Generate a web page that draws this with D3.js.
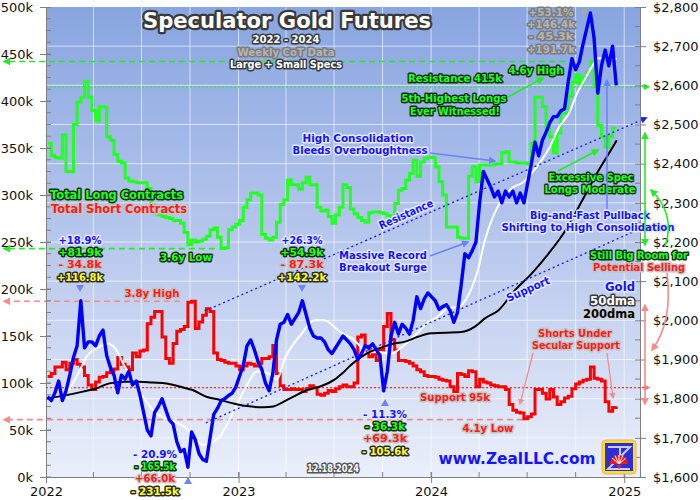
<!DOCTYPE html>
<html>
<head>
<meta charset="utf-8">
<script src="https://cdn.jsdelivr.net/npm/d3@7"></script>
<style>
  body { margin: 0; background: #fff; }
  svg { display: block; }
</style>
</head>
<body>
<svg id="chart"></svg>
<script>
// weekly CoT data, first report 2022-01-04, last 2024-12-17 (thousands of contracts)
const cotStart = "2022-01-04";
const longs = [
  355, 342, 340, 339, 364, 325, 325, 375, 399, 404,
  421, 404, 390, 379, 394, 394, 362, 358, 343, 336,
  334, 318, 315, 314, 313, 313, 313, 307, 290, 280,
  279, 277, 276, 275, 273, 273, 270, 260, 247, 252,
  250, 251, 253, 256, 263, 265, 255, 243, 244, 263,
  266, 269, 273, 287, 295, 302, 302, 300, 258, 254,
  252, 255, 271, 290, 295, 316, 311, 311, 306, 313,
  319, 311, 311, 287, 283, 284, 277, 270, 279, 287,
  311, 308, 285, 280, 276, 273, 271, 281, 282, 282,
  281, 280, 278, 275, 291, 305, 307, 316, 323, 337,
  320, 335, 339, 340, 340, 330, 314, 300, 266, 266,
  266, 255, 254, 254, 320, 330, 314, 332, 332, 332,
  332, 333, 333, 345, 346, 335, 335, 334, 334, 334,
  333, 355, 404, 404, 394, 371, 362, 345, 366, 387,
  387, 405, 420, 428, 418, 425, 431, 442, 415, 374,
  362, 351, 362, 371, 371
];
const shorts = [
  107, 110, 117, 117, 122, 114, 121, 125, 120, 117,
  108, 98, 93, 101, 106, 107, 111, 113, 115, 127,
  120, 117, 114, 132, 128, 134, 135, 163, 170, 176,
  176, 149, 126, 121, 142, 155, 157, 160, 186, 187,
  158, 165, 172, 179, 176, 132, 125, 124, 122, 121,
  121, 118, 114, 118, 121, 120, 118, 121, 126, 126,
  128, 140, 110, 97, 93, 93, 94, 93, 93, 91,
  94, 97, 95, 88, 87, 89, 92, 91, 94, 96,
  98, 96, 96, 100, 149, 151, 139, 128, 130, 124,
  135, 160, 174, 146, 135, 124, 124, 123, 121, 118,
  114, 112, 108, 107, 107, 106, 104, 103, 102, 96,
  91, 110, 109, 107, 113, 112, 96, 104, 101, 100,
  98, 97, 96, 96, 93, 77, 71, 69, 68, 62,
  64, 67, 93, 93, 89, 83, 93, 85, 77, 80,
  84, 86, 94, 99, 101, 103, 104, 117, 105, 104,
  102, 80, 70, 74, 75
];
// gold price sampled on the same weekly dates ($/oz)
const gold = [
  1805, 1795, 1815, 1845, 1795, 1820, 1860, 1905, 1935, 2050,
  1930, 1945, 1945, 1935, 1960, 1975, 1910, 1880, 1860, 1815,
  1860, 1850, 1870, 1835, 1845, 1810, 1765, 1720, 1705, 1765,
  1780, 1800, 1772, 1745, 1735, 1690, 1665, 1670, 1625, 1715,
  1695, 1660, 1645, 1640, 1700, 1760, 1775, 1795, 1800, 1808,
  1814, 1830, 1858, 1885, 1935, 1950, 1925, 1895, 1875, 1840,
  1820, 1865, 1950, 1990, 1995, 2015, 1990, 2005, 2020, 2050,
  2015, 1980, 1960, 1955, 1955, 1945, 1925, 1915, 1930, 1945,
  1960, 1950, 1940, 1925, 1900, 1915, 1935, 1930, 1940, 1925,
  1910, 1820, 1870, 1960, 1995, 1965, 1990, 1980, 1965, 2000,
  2060, 2030, 2055, 2070, 2060, 2050, 2028, 2035, 2040, 2025,
  1995, 2020, 2090, 2170, 2160, 2178, 2200, 2300, 2380, 2360,
  2340, 2315, 2330, 2300, 2330, 2315, 2330, 2300, 2325, 2300,
  2350, 2400, 2455, 2420, 2460, 2480, 2505, 2520, 2520, 2535,
  2540, 2610, 2668, 2640, 2660, 2705, 2745, 2785, 2720, 2580,
  2650, 2690, 2650, 2700, 2600
];
const ma50Dates = [
  "2022-01-03", "2022-02-03", "2022-02-28", "2022-03-19", "2022-04-13", "2022-04-26",
  "2022-05-12", "2022-05-27", "2022-06-15", "2022-07-04", "2022-07-29", "2022-08-24",
  "2022-09-24", "2022-10-13", "2022-10-26", "2022-11-14", "2022-11-26", "2022-12-21",
  "2023-01-15", "2023-02-05", "2023-02-25", "2023-03-15", "2023-03-29", "2023-04-30",
  "2023-05-25", "2023-06-12", "2023-07-13", "2023-08-08", "2023-09-01", "2023-09-20",
  "2023-10-17", "2023-11-05", "2023-11-29", "2023-12-24", "2024-01-12", "2024-02-01",
  "2024-02-23", "2024-03-12", "2024-03-31", "2024-04-11", "2024-04-29", "2024-05-18",
  "2024-06-05", "2024-06-23", "2024-07-06", "2024-07-24", "2024-08-12", "2024-08-31",
  "2024-09-18", "2024-10-04", "2024-10-20", "2024-11-05", "2024-11-12", "2024-12-18"
];
const ma50Values = [
  1800, 1809, 1856, 1907, 1933, 1941,
  1929, 1890, 1848, 1805, 1763, 1746,
  1724, 1694, 1682, 1690, 1703, 1763,
  1830, 1870, 1865, 1850, 1900, 1965,
  2000, 2000, 1970, 1950, 1920, 1920,
  1915, 1930, 1958, 1992, 2008, 2030,
  2035, 2065, 2135, 2200, 2270, 2315,
  2340, 2352, 2370, 2400, 2440, 2494,
  2528, 2580, 2620, 2656, 2669, 2667
];
const ma200Dates = [
  "2022-01-02", "2022-02-09", "2022-03-12", "2022-04-06", "2022-05-01", "2022-06-01",
  "2022-06-27", "2022-07-22", "2022-08-17", "2022-09-11", "2022-10-06", "2022-11-01",
  "2022-11-26", "2022-12-22", "2023-01-17", "2023-02-17", "2023-03-08", "2023-03-27",
  "2023-04-15", "2023-05-11", "2023-06-05", "2023-07-01", "2023-07-20", "2023-08-02",
  "2023-09-02", "2023-10-04", "2023-10-23", "2023-11-11", "2023-12-07", "2024-01-01",
  "2024-02-27", "2024-03-24", "2024-04-12", "2024-05-08", "2024-06-08", "2024-07-10",
  "2024-08-11", "2024-09-12", "2024-10-14", "2024-11-14", "2024-12-03", "2024-12-18"
];
const ma200Values = [
  1800, 1809, 1818, 1826, 1839, 1843,
  1843, 1841, 1839, 1831, 1822, 1805,
  1797, 1788, 1781, 1778, 1780, 1792,
  1805, 1822, 1831, 1848, 1869, 1886,
  1916, 1933, 1941, 1945, 1958, 1967,
  1970, 1984, 2005, 2026, 2077, 2120,
  2171, 2230, 2307, 2384, 2426, 2460
];
const leftTicks = [0, 50, 100, 150, 200, 250, 300, 350, 400, 450, 500];
const rightTicks = [1600, 1700, 1800, 1900, 2000, 2100, 2200, 2300, 2400, 2500, 2600, 2700, 2800];
const yearTicks = ["2022-01-01", "2023-01-01", "2024-01-01", "2025-01-01"];
// horizontal CoT levels (k) and the date each dashed level runs back from
const longLevels = [442, 243];
const longLevelEnds = ["2024-09-11", "2022-11-17"];
const longResistance = 415;
const shortLevels = [187, 61];
const shortLevelEnds = ["2022-09-12", "2024-06-23"];
const shortSupport = 95;
// secular gold trend channel
const resistDates = ["2022-10-29", "2025-02-12"];
const resistPrices = [2024, 2517];
const supportDates = ["2022-10-31", "2025-02-12"];
const supportPrices = [1738, 2241];

const width = 700, height = 500;
const margin = { top: 7, right: 60, bottom: 23, left: 46 };
const parse = d3.timeParse("%Y-%m-%d");

const svg = d3.select("#chart").attr("width", width).attr("height", height);
const defs = svg.append("defs");

const grad = defs.append("linearGradient").attr("id", "bg")
  .attr("x1", 0).attr("y1", 0).attr("x2", 0).attr("y2", 1);
grad.append("stop").attr("offset", "0%").attr("stop-color", "#88a5e0");
grad.append("stop").attr("offset", "55%").attr("stop-color", "#bccbee");
grad.append("stop").attr("offset", "100%").attr("stop-color", "#eaeffa");

function marker(id, color) {
  defs.append("marker").attr("id", id)
    .attr("viewBox", "0 0 10 10").attr("refX", 8).attr("refY", 5)
    .attr("markerWidth", 5).attr("markerHeight", 5)
    .attr("orient", "auto-start-reverse")
    .append("path").attr("d", "M0,0L10,5L0,10z").attr("fill", color);
}
marker("mGreen", "#22ee22");
marker("mRed", "#ff6f6f");
marker("mPink", "#f48c8c");
marker("mBlue", "#6a82ff");
marker("mBlueDot", "#2020ff");

const x = d3.scaleTime()
  .domain([parse("2022-01-01"), parse("2025-01-31")])
  .range([margin.left, width - margin.right]);
const yL = d3.scaleLinear().domain([0, 500]).range([height - margin.bottom, margin.top]);
const yR = d3.scaleLinear().domain([1600, 2800]).range([height - margin.bottom, margin.top]);
const x0 = margin.left, x1 = width - margin.right;
const yTop = margin.top, yBot = height - margin.bottom;

const weeks = longs.map((_, i) => d3.timeWeek.offset(parse(cotStart), i));

// plot background
svg.append("rect").attr("x", x0).attr("y", yTop)
  .attr("width", x1 - x0).attr("height", yBot - yTop).attr("fill", "url(#bg)");

// grid
const quarters = d3.timeMonth.every(3).range(parse("2022-02-01"), parse("2025-01-02"));
svg.append("g").selectAll("line").data(quarters).join("line")
  .attr("x1", d => x(d)).attr("x2", d => x(d)).attr("y1", yTop).attr("y2", yBot)
  .attr("stroke", "#fff").attr("stroke-opacity", 0.6);
svg.append("g").selectAll("line").data(rightTicks.slice(1, -1)).join("line")
  .attr("x1", x0).attr("x2", x1).attr("y1", d => yR(d)).attr("y2", d => yR(d))
  .attr("stroke", "#fff").attr("stroke-opacity", 0.6);

// level lines
const levels = svg.append("g").attr("fill", "none");
longLevels.forEach((v, i) => {
  levels.append("line").attr("x1", x(parse(longLevelEnds[i]))).attr("x2", 4)
    .attr("y1", yL(v)).attr("y2", yL(v))
    .attr("stroke", "#22ee22").attr("stroke-width", 1.6).attr("stroke-dasharray", "6,4")
    .attr("marker-end", "url(#mGreen)");
});
levels.append("line").attr("x1", x0).attr("x2", x1 + 9)
  .attr("y1", yL(longResistance)).attr("y2", yL(longResistance))
  .attr("stroke", "#22ee22").attr("stroke-width", 1.3).attr("stroke-dasharray", "2,2")
  .attr("marker-end", "url(#mGreen)");
shortLevels.forEach((v, i) => {
  levels.append("line").attr("x1", x(parse(shortLevelEnds[i]))).attr("x2", 4)
    .attr("y1", yL(v)).attr("y2", yL(v))
    .attr("stroke", "#f08c8c").attr("stroke-width", 1.6).attr("stroke-dasharray", "6,4")
    .attr("marker-end", "url(#mPink)");
});
levels.append("line").attr("x1", x0).attr("x2", x1 + 9)
  .attr("y1", yL(shortSupport)).attr("y2", yL(shortSupport))
  .attr("stroke", "#ff2a2a").attr("stroke-width", 1.3).attr("stroke-dasharray", "2,2")
  .attr("marker-end", "url(#mRed)");

// series
const cotLine = d3.line().x((d, i) => x(weeks[i])).y(d => yL(d)).curve(d3.curveStepAfter);
svg.append("path").datum(longs).attr("d", cotLine)
  .attr("fill", "none").attr("stroke", "#22ff22").attr("stroke-width", 3);
svg.append("path").datum(shorts).attr("d", cotLine)
  .attr("fill", "none").attr("stroke", "#ff0000").attr("stroke-width", 3);

const maLine = d3.line().x(d => x(parse(d[0]))).y(d => yR(d[1])).curve(d3.curveMonotoneX);
svg.append("path").datum(d3.zip(ma50Dates, ma50Values)).attr("d", maLine)
  .attr("fill", "none").attr("stroke", "#fff").attr("stroke-width", 2);
svg.append("path").datum(d3.zip(ma200Dates, ma200Values)).attr("d", maLine)
  .attr("fill", "none").attr("stroke", "#000").attr("stroke-width", 2);

svg.append("path").datum(gold)
  .attr("d", d3.line().x((d, i) => x(weeks[i])).y(d => yR(d)))
  .attr("fill", "none").attr("stroke", "#0000ff").attr("stroke-width", 3.4)
  .attr("stroke-linejoin", "round");

// trend channel
[[resistDates, resistPrices], [supportDates, supportPrices]].forEach(([ds, ps]) => {
  svg.append("line")
    .attr("x1", x(parse(ds[0]))).attr("y1", yR(ps[0]))
    .attr("x2", x(parse(ds[1]))).attr("y2", yR(ps[1]))
    .attr("stroke", "#2020ff").attr("stroke-width", 1.4).attr("stroke-dasharray", "2,3")
    .attr("marker-end", "url(#mBlueDot)");
});

// axes
const axisColor = "#808080";
const gL = svg.append("g").attr("transform", `translate(${x0},0)`)
  .call(d3.axisLeft(yL).tickValues(leftTicks).tickFormat(d => d + "k")
    .tickSize(6).tickSizeOuter(0).tickPadding(7));
gL.selectAll(".tick line").attr("x1", 5);
gL.selectAll(".tick text").attr("font-size", 13);
gL.append("g").selectAll("line").data(d3.range(0, 500, 12.5)).join("line")
  .attr("x1", 0).attr("x2", 5).attr("y1", d => yL(d)).attr("y2", d => yL(d));

const gR = svg.append("g").attr("transform", `translate(${x1},0)`)
  .call(d3.axisRight(yR).tickValues(rightTicks).tickFormat(d => "$" + d3.format(",")(d))
    .tickSize(6).tickSizeOuter(0).tickPadding(7));
gR.selectAll(".tick line").attr("x1", -5);
gR.selectAll(".tick text").attr("font-size", 13);
gR.append("g").selectAll("line").data(d3.range(1650, 2800, 100)).join("line")
  .attr("x1", -5).attr("x2", 0).attr("y1", d => yR(d)).attr("y2", d => yR(d));

const gB = svg.append("g").attr("transform", `translate(0,${yBot})`)
  .call(d3.axisBottom(x).tickValues(yearTicks.map(parse)).tickFormat(d3.timeFormat("%Y"))
    .tickSize(6).tickSizeOuter(0).tickPadding(4));
gB.selectAll(".tick line").attr("y1", -5);
gB.selectAll(".tick text").attr("font-size", 13);
gB.append("g").selectAll("line").data(quarters).join("line")
  .attr("x1", d => x(d)).attr("x2", d => x(d)).attr("y1", -5).attr("y2", 0);

[gL, gR, gB].forEach(g => {
  g.attr("font-family", "'DejaVu Sans', Verdana, sans-serif");
  g.selectAll("line, path").attr("stroke", axisColor);
  g.selectAll("g line").attr("stroke", axisColor);
  g.selectAll("text").attr("fill", "#111");
});

// annotation text
const styles = {
  green: ["#22ff22", "#123012"],
  red: ["#ff1a1a", "#c4c4c4"],
  blue: ["#1414ff", "#e6e9f8"],
  yellow: ["#ffff22", "#2a2a2a"],
  white: ["#ffffff", "#3a3a3a"],
  gray: ["#b4b4b4", "#7c7c7c"],
  black: ["#000000", "#d4d4d4"]
};
const notes = svg.append("g")
  .attr("font-family", "'DejaVu Sans', Verdana, sans-serif").attr("font-weight", "bold");

function label(s, px, py, style, opt = {}) {
  const [fill, stroke] = styles[style];
  const t = notes.append("text").text(s)
    .attr("x", px).attr("y", py).attr("dy", "0.36em")
    .attr("text-anchor", opt.anchor || "middle")
    .attr("font-size", opt.size || 11)
    .attr("fill", fill).attr("stroke", stroke)
    .attr("stroke-width", opt.sw || 3).attr("stroke-linejoin", "round")
    .attr("paint-order", "stroke");
  if (opt.w) t.attr("textLength", opt.w).attr("lengthAdjust", "spacingAndGlyphs");
  if (opt.rot) t.attr("transform", `rotate(${opt.rot},${px},${py})`);
  if (opt.opacity) t.attr("opacity", opt.opacity);
  return t;
}

function arrow(pts, mk, color, sw = 1.5, both = false) {
  const p = notes.append("path")
    .attr("d", typeof pts === "string" ? pts : d3.line()(pts))
    .attr("fill", "none").attr("stroke", color).attr("stroke-width", sw)
    .attr("marker-end", `url(#${mk})`);
  if (both) p.attr("marker-start", `url(#${mk})`);
}

function tri(px, py, dir, color) {
  const d = dir === "down" ? `M${px - 4},${py - 4}L${px + 4},${py - 4}L${px},${py + 3}z`
    : dir === "up" ? `M${px - 4},${py + 4}L${px + 4},${py + 4}L${px},${py - 3}z`
    : `M${px - 3},${py - 4}L${px - 3},${py + 4}L${px + 4},${py}z`;
  notes.append("path").attr("d", d).attr("fill", color);
}

// title block
label("Speculator Gold Futures", 287, 20, "white", { size: 21, w: 288, sw: 4.5 });
label("2022 - 2024", 286, 39, "white", { size: 10, w: 67 });
label("Weekly CoT Data", 286, 52, "gray", { size: 10, w: 97 });
label("Large + Small Specs", 286, 64, "white", { size: 10, w: 112 });

// legend
label("Total Long Contracts", 50, 195, "green", { anchor: "start", size: 11.5, w: 133 });
label("Total Short Contracts", 51, 209, "red", { anchor: "start", size: 11.5, w: 136 });

// change callouts
function callout(px, py, lines) {
  lines.forEach((l, i) => label(l[0], px, py + i * 12.3, l[1], { size: 10.5, w: l[2] }));
}
callout(80, 240, [["+18.9%", "blue", 43], ["+81.9k", "green", 43], ["- 34.8k", "red", 43], ["+116.8k", "yellow", 46]]);
tri(80, 289, "down", "#7184f0");
callout(302, 240, [["+26.3%", "blue", 41], ["+54.9k", "green", 43], ["- 87.3k", "red", 43], ["+142.2k", "yellow", 49]]);
tri(302, 289, "down", "#7184f0");
callout(155, 454, [["- 20.9%", "blue", 44], ["- 165.5k", "green", 41], ["+66.0k", "red", 40], ["- 231.5k", "yellow", 48]]);
tri(188, 480, "up", "#7184f0");
callout(385, 414, [["- 11.3%", "blue", 44], ["- 36.3k", "green", 40], ["+69.3k", "red", 44], ["- 105.6k", "yellow", 46]]);
tri(385, 402, "up", "#7184f0");
callout(551, 12, [["+53.1%", "gray", 45], ["+146.4k", "gray", 48], ["- 45.3k", "gray", 45], ["+191.7k", "gray", 48]]);
tri(585, 12, "right", "#a8a8a8");

// level notes
label("4.6y High", 536, 70, "green", { w: 55 });
label("Resistance 415k", 455, 78, "green", { w: 94 });
label("5th-Highest Longs", 454, 98.5, "green", { size: 10.5, w: 105 });
label("Ever Witnessed!", 455, 111, "green", { size: 10.5, w: 90 });
arrow([[508, 97], [543, 78]], "mGreen", "#22ee22", 1.6);
label("3.6y Low", 186, 257, "green", { w: 52 });
label("3.8y High", 152, 293, "red", { w: 55 });
label("Support 95k", 455, 397, "red", { w: 70 });
label("4.1y Low", 488, 428, "red", { w: 51 });

// gold notes
label("High Consolidation", 358, 138, "blue", { w: 111 });
label("Bleeds Overboughtness", 360, 150, "blue", { w: 135 });
arrow([[430, 153], [495, 161]], "mBlue", "#6a82ff");
label("Massive Record", 383, 255, "blue", { w: 88 });
label("Breakout Surge", 383, 267, "blue", { w: 88 });
arrow([[430, 256], [468, 242]], "mBlue", "#6a82ff");
label("Resistance", 406, 214, "blue", { w: 58, rot: -24 });
label("Support", 528, 289, "blue", { w: 46, rot: -24 });

label("Excessive Spec", 591, 177, "green", { w: 85 });
label("Longs Moderate", 590, 189, "green", { w: 91 });
arrow([[558, 171], [598, 150]], "mGreen", "#22ee22", 1.6);
label("Big-and-Fast Pullback", 590, 215, "blue", { w: 120 });
label("Shifting to High Consolidation", 588, 227, "blue", { w: 173 });
arrow([[607, 209], [607, 80]], "mBlue", "#6a82ff");

label("Still Big Room for", 639, 255, "green", { w: 98 });
label("Potential Selling", 639, 267, "red", { w: 92 });
arrow([[645, 133], [645, 245]], "mGreen", "#22ee22", 1.6, true);
arrow("M665,247 Q676,214 651,190", "mGreen", "#22ee22", 1.6);
arrow([[645, 305], [645, 404]], "mPink", "#f48c8c", 1.6, true);
arrow("M667,273 Q673,322 652,350", "mPink", "#f48c8c", 1.6);

label("Shorts Under", 575, 333, "red", { w: 74 });
label("Secular Support", 576, 345, "red", { w: 88 });
arrow([[533, 353], [520, 404]], "mPink", "#f48c8c", 1.3);
arrow([[607, 353], [613, 398]], "mPink", "#f48c8c", 1.3);

label("Gold", 635, 287, "blue", { anchor: "end", size: 12, w: 30 });
label("50dma", 635, 301, "white", { anchor: "end", size: 12, w: 45 });
label("200dma", 635, 314, "black", { anchor: "end", size: 12, w: 52 });

label("12.18.2024", 333, 468, "white", { size: 10, w: 52, sw: 0, opacity: 0.85 });
label("www.ZealLLC.com", 517, 458, "blue", { size: 16, w: 157, sw: 3.5 });

// logo
const logo = svg.append("g").attr("transform", "translate(602,440)");
logo.append("rect").attr("width", 34).attr("height", 34).attr("rx", 4)
  .attr("fill", "#ffe600").attr("stroke", "#f2a0a0");
logo.append("rect").attr("x", 3).attr("y", 3).attr("width", 28).attr("height", 28)
  .attr("fill", "#2e2ed6");
logo.append("path").attr("d", "M6,7H28L6,29H28M18,7V17")
  .attr("fill", "none").attr("stroke", "#c8ccff").attr("stroke-width", 2);
logo.append("path").attr("d", "M8,24A9,9 0 0 1 26,24Z").attr("fill", "#f01818");
logo.append("path").attr("d", "M17,24L10,18M17,24L13,15.5M17,24L17,15M17,24L21,15.5M17,24L24,18")
  .attr("stroke", "#fff").attr("stroke-width", 1);
logo.append("path").attr("d", "M14,25H20L17,29Z").attr("fill", "#f01818");
</script>
</body>
</html>
